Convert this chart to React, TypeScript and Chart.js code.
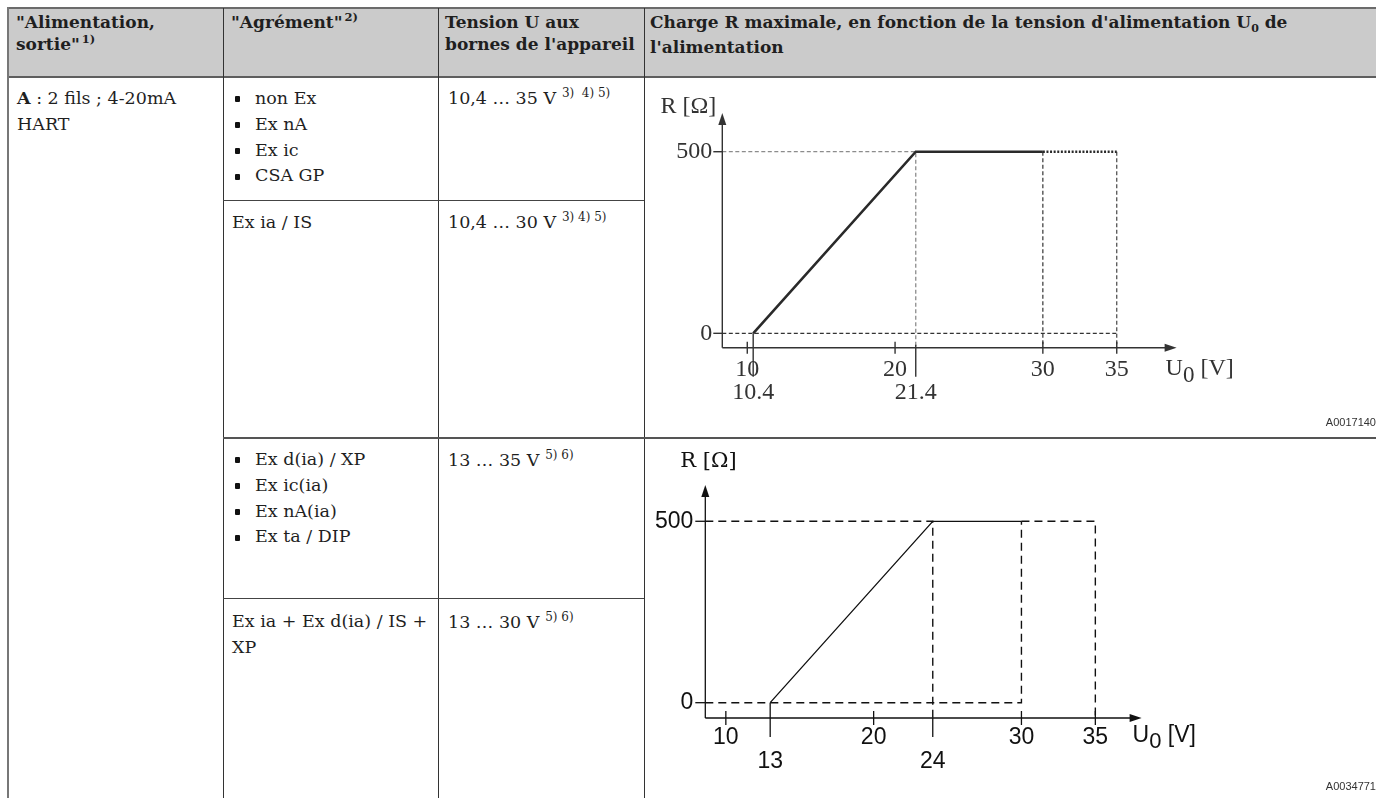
import React, { useEffect, useRef } from "react";
import { Chart, registerables } from "chart.js";

Chart.register(...registerables);

// ---------- Chart 1 : non Ex / Ex nA / Ex ic / CSA GP and Ex ia / IS ----------
const c1LoadVoltage = [10.4, 21.4, 30];
const c1LoadOhm = [0, 500, 500];
const c1ExtVoltage = [30, 35];
const c1ExtOhm = [500, 500];
const c1XTicksMain = [10, 20, 30, 35];
const c1XTicksSecond = [10.4, 21.4];
const c1YTicks = [0, 500];
const c1XRange = [8.31, 39.05];
const c1YRange = [-39.6, 606.6];

// ---------- Chart 2 : Ex d(ia) ... ----------
const c2LoadVoltage = [13, 24, 30];
const c2LoadOhm = [0, 500, 500];
const c2ExtVoltage = [30, 35];
const c2XTicksMain = [10, 20, 30, 35];
const c2XTicksSecond = [13, 24];
const c2YTicks = [0, 500];
const c2XRange = [8.61, 38.13];
const c2YRange = [-42.2, 600];

const SERIF = "'DejaVu Serif', serif";

type P = { x: number; y: number };
const pts = (xs: number[], ys: number[]): P[] => xs.map((x, i) => ({ x, y: ys[i] }));

type AxisCfg = {
  color: string;
  lineWidth: number;
  font: string;
  subFont: string;
  textColor: string;
  arrowLen: number;
  arrowHalf: number;
  yTicks: number[];
  yTickLen: number;
  yLabelGap: number;
  xMain: number[];
  xMainUp: number;
  xMainDown: number;
  xMainLabelDy: number;
  xSecond: number[];
  xSecondFromZero: boolean[];
  xSecondUp: number;
  xSecondDown: number;
  xSecondLabelDy: number;
  unitDx: number;
  unitDy: number;
  subDy: number;
  rFont: string;
  rDx: number;
  rDy: number;
  rAlign: CanvasTextAlign;
};

function makeAxisPlugin(cfg: AxisCfg) {
  return {
    id: "schematicAxes",
    afterDatasetsDraw(chart: any) {
      const ctx: CanvasRenderingContext2D = chart.ctx;
      const xs = chart.scales.x;
      const ys = chart.scales.y;
      const { left, right, top, bottom } = chart.chartArea;
      ctx.save();
      ctx.strokeStyle = cfg.color;
      ctx.fillStyle = cfg.color;
      ctx.lineWidth = cfg.lineWidth;
      ctx.setLineDash([]);
      // axes
      ctx.beginPath();
      ctx.moveTo(left, bottom);
      ctx.lineTo(left, top + cfg.arrowLen - 1);
      ctx.moveTo(left, bottom);
      ctx.lineTo(right - cfg.arrowLen + 1, bottom);
      ctx.stroke();
      // arrows
      ctx.beginPath();
      ctx.moveTo(left, top);
      ctx.lineTo(left - cfg.arrowHalf, top + cfg.arrowLen);
      ctx.lineTo(left + cfg.arrowHalf, top + cfg.arrowLen);
      ctx.closePath();
      ctx.fill();
      ctx.beginPath();
      ctx.moveTo(right, bottom);
      ctx.lineTo(right - cfg.arrowLen, bottom - cfg.arrowHalf);
      ctx.lineTo(right - cfg.arrowLen, bottom + cfg.arrowHalf);
      ctx.closePath();
      ctx.fill();

      ctx.fillStyle = cfg.textColor;
      ctx.font = cfg.font;
      // y ticks
      ctx.textAlign = "right";
      ctx.textBaseline = "middle";
      cfg.yTicks.forEach((v) => {
        const py = ys.getPixelForValue(v);
        ctx.beginPath();
        ctx.moveTo(left - cfg.yTickLen, py);
        ctx.lineTo(left, py);
        ctx.stroke();
        ctx.fillText(String(v), left - cfg.yLabelGap, py);
      });
      // x main ticks
      ctx.textAlign = "center";
      cfg.xMain.forEach((v) => {
        const px = xs.getPixelForValue(v);
        ctx.beginPath();
        ctx.moveTo(px, bottom - cfg.xMainUp);
        ctx.lineTo(px, bottom + cfg.xMainDown);
        ctx.stroke();
        ctx.fillText(String(v), px, bottom + cfg.xMainLabelDy);
      });
      // x second-row ticks
      const zeroY = ys.getPixelForValue(0);
      cfg.xSecond.forEach((v, i) => {
        const px = xs.getPixelForValue(v);
        ctx.beginPath();
        ctx.moveTo(px, cfg.xSecondFromZero[i] ? zeroY : bottom - cfg.xSecondUp);
        ctx.lineTo(px, bottom + cfg.xSecondDown);
        ctx.stroke();
        ctx.fillText(String(v), px, bottom + cfg.xSecondLabelDy);
      });
      // unit label U0 [V]
      ctx.textAlign = "left";
      let ux = right + cfg.unitDx;
      const uy = bottom + cfg.unitDy;
      ctx.fillText("U", ux, uy);
      ux += ctx.measureText("U").width;
      ctx.font = cfg.subFont;
      ctx.fillText("0", ux, uy + cfg.subDy);
      ux += ctx.measureText("0").width;
      ctx.font = cfg.font;
      ctx.fillText(" [V]", ux, uy);
      // R label
      ctx.font = cfg.rFont;
      ctx.textAlign = cfg.rAlign;
      ctx.fillText("R [\u03a9]", left + cfg.rDx, top + cfg.rDy);
      ctx.restore();
    },
  };
}

function line(data: P[], color: string, width: number, dash: number[]) {
  return {
    data,
    showLine: true,
    borderColor: color,
    backgroundColor: color,
    borderWidth: width,
    borderDash: dash,
    pointRadius: 0,
    pointHoverRadius: 0,
    fill: false,
    tension: 0,
  };
}

function buildChart1() {
  const X0 = c1XRange[0];
  const Y0 = c1YRange[0];
  const kneeX = c1LoadVoltage[1];
  const maxR = c1LoadOhm[1];
  const endX = c1LoadVoltage[2];
  const extX = c1ExtVoltage[1];
  return {
    datasets: [
      line(pts(c1LoadVoltage, c1LoadOhm), "#2a2a2a", 2.6, []),
      line(pts(c1ExtVoltage, c1ExtOhm), "#2a2a2a", 2.6, [2, 1.6]),
      line([{ x: X0, y: maxR }, { x: kneeX, y: maxR }, { x: kneeX, y: Y0 }], "#8c8c8c", 1.3, [4, 2.5]),
      line([{ x: X0, y: 0 }, { x: extX, y: 0 }], "#333", 1.2, [4, 2.5]),
      line([{ x: endX, y: maxR }, { x: endX, y: Y0 }], "#333", 1.2, [4, 2.5]),
      line([{ x: extX, y: maxR }, { x: extX, y: Y0 }], "#444", 1.2, [4, 2.5]),
    ],
  };
}

function buildChart2() {
  const X0 = c2XRange[0];
  const Y0 = c2YRange[0];
  const kneeX = c2LoadVoltage[1];
  const maxR = c2LoadOhm[1];
  const endX = c2LoadVoltage[2];
  const extX = c2ExtVoltage[1];
  return {
    datasets: [
      line(pts(c2LoadVoltage, c2LoadOhm), "#111", 1.3, []),
      line([{ x: X0, y: maxR }, { x: kneeX, y: maxR }, { x: kneeX, y: Y0 }], "#111", 1.4, [8, 5]),
      line([{ x: endX, y: maxR }, { x: extX, y: maxR }, { x: extX, y: Y0 }], "#111", 1.4, [8, 5]),
      line([{ x: X0, y: 0 }, { x: endX, y: 0 }, { x: endX, y: maxR }], "#111", 1.4, [8, 5]),
    ],
  };
}

const axis1: AxisCfg = {
  color: "#333",
  lineWidth: 1.4,
  font: "24px 'Liberation Serif'",
  subFont: "23px 'Liberation Serif'",
  textColor: "#333",
  arrowLen: 12,
  arrowHalf: 4,
  yTicks: c1YTicks,
  yTickLen: 9,
  yLabelGap: 10,
  xMain: c1XTicksMain,
  xMainUp: 6,
  xMainDown: 6,
  xMainLabelDy: 22,
  xSecond: c1XTicksSecond,
  xSecondFromZero: [true, false],
  xSecondUp: 3,
  xSecondDown: 29,
  xSecondLabelDy: 45,
  unitDx: -11,
  unitDy: 21,
  subDy: 7,
  rFont: "24px 'Liberation Serif'",
  rDx: -6,
  rDy: -6,
  rAlign: "right",
};

const axis2: AxisCfg = {
  color: "#111",
  lineWidth: 1.3,
  font: "23px 'Liberation Sans'",
  subFont: "22px 'Liberation Sans'",
  textColor: "#111",
  arrowLen: 12,
  arrowHalf: 4,
  yTicks: c2YTicks,
  yTickLen: 10,
  yLabelGap: 12,
  xMain: c2XTicksMain,
  xMainUp: 7,
  xMainDown: 7,
  xMainLabelDy: 20,
  xSecond: c2XTicksSecond,
  xSecondFromZero: [true, false],
  xSecondUp: 0,
  xSecondDown: 19,
  xSecondLabelDy: 44,
  unitDx: -9,
  unitDy: 18,
  subDy: 6,
  rFont: "21px 'DejaVu Serif'",
  rDx: -25,
  rDy: -23,
  rAlign: "left",
};

type ChartBoxProps = {
  left: number;
  top: number;
  width: number;
  height: number;
  build: () => any;
  xRange: number[];
  yRange: number[];
  padding: { left: number; right: number; top: number; bottom: number };
  axis: AxisCfg;
};

function ChartBox(props: ChartBoxProps) {
  const ref = useRef<HTMLCanvasElement | null>(null);
  useEffect(() => {
    if (!ref.current) return;
    const chart = new Chart(ref.current, {
      type: "scatter",
      data: props.build(),
      options: {
        responsive: false,
        animation: false,
        events: [],
        layout: { padding: props.padding },
        plugins: { legend: { display: false }, tooltip: { enabled: false }, title: { display: false } },
        scales: {
          x: { type: "linear", min: props.xRange[0], max: props.xRange[1], display: false },
          y: { type: "linear", min: props.yRange[0], max: props.yRange[1], display: false },
        },
      } as any,
      plugins: [makeAxisPlugin(props.axis)],
    });
    return () => chart.destroy();
  }, []);
  return (
    <canvas
      ref={ref}
      width={props.width}
      height={props.height}
      style={{ position: "absolute", left: props.left, top: props.top, width: props.width, height: props.height }}
    />
  );
}

const HL = ({ x, y, w, h = 1, c = "#333" }: any) => (
  <div style={{ position: "absolute", left: x, top: y, width: w, height: h, background: c }} />
);
const VL = ({ x, y, h, w = 1, c = "#333" }: any) => (
  <div style={{ position: "absolute", left: x, top: y, width: w, height: h, background: c }} />
);

const Sup = ({ children, size = 12, dy = -7 }: any) => (
  <span style={{ fontSize: size, position: "relative", top: dy, whiteSpace: "pre", marginLeft: 2 }}>{children}</span>
);

const Txt = ({ x, y, lh = 26, size = 17.5, weight = 400, children }: any) => (
  <div
    style={{
      position: "absolute",
      left: x,
      top: y,
      lineHeight: lh + "px",
      fontSize: size,
      fontWeight: weight,
      whiteSpace: "nowrap",
      fontFamily: SERIF,
    }}
  >
    {children}
  </div>
);

const Bullets = ({ y, items, lh = 25.8 }: any) => (
  <>
    {items.map((t: string, i: number) => (
      <React.Fragment key={i}>
        <div
          style={{
            position: "absolute",
            left: 235,
            top: y + i * lh + lh / 2 - 2.5,
            width: 5,
            height: 6,
            background: "#111",
            borderRadius: 1,
          }}
        />
        <Txt x={255} y={y + i * lh} lh={lh}>
          {t}
        </Txt>
      </React.Fragment>
    ))}
  </>
);

const codeStyle: React.CSSProperties = {
  position: "absolute",
  fontFamily: "'Liberation Sans', sans-serif",
  fontSize: 11,
  color: "#333",
  right: 0,
  whiteSpace: "nowrap",
};

export default function App() {
  const H = 17;
  return (
    <div
      style={{
        position: "fixed",
        left: 0,
        top: 0,
        width: 1376,
        height: 798,
        overflow: "hidden",
        background: "#fff",
        color: "#1f1f1f",
        fontFamily: SERIF,
      }}
    >
      {/* header background */}
      <div style={{ position: "absolute", left: 8, top: 8, width: 1368, height: 69, background: "#cbcbcb" }} />
      <HL x={8} y={7} w={1368} h={2} c="#6b6b6b" />
      <HL x={8} y={76} w={1368} h={2} c="#5e5e5e" />
      {/* vertical lines */}
      <VL x={7} y={7} h={791} w={2} c="#777" />
      <VL x={223} y={8} h={790} c="#333" />
      <VL x={438} y={8} h={790} c="#333" />
      <VL x={644} y={8} h={790} c="#333" />
      {/* body horizontal lines */}
      <HL x={223} y={200} w={421} c="#444" />
      <HL x={223} y={437} w={1153} h={1.5} c="#555" />
      <HL x={223} y={598} w={421} c="#444" />

      {/* header texts */}
      <Txt x={16} y={11} lh={22} size={H} weight={700}>
        <div>"Alimentation,</div>
        <div>
          sortie"<Sup size={11.5}>1)</Sup>
        </div>
      </Txt>
      <Txt x={231} y={11} lh={22} size={H} weight={700}>
        "Agrément"<Sup size={11.5}>2)</Sup>
      </Txt>
      <Txt x={445} y={11} lh={22} size={H} weight={700}>
        <div>Tension U aux</div>
        <div>bornes de l'appareil</div>
      </Txt>
      <Txt x={650} y={11} lh={22} size={H} weight={700}>
        <div>
          Charge R maximale, en fonction de la tension d'alimentation U
          <span style={{ fontSize: 11, position: "relative", top: 4 }}>0</span> de
        </div>
        <div>l'alimentation</div>
      </Txt>

      {/* row 1 */}
      <Txt x={17} y={85}>
        <div>
          <b>A</b> : 2 fils ; 4-20mA
        </div>
        <div>HART</div>
      </Txt>
      <Bullets y={86} items={["non Ex", "Ex nA", "Ex ic", "CSA GP"]} />
      <Txt x={448} y={85}>
        10,4 … 35 V<Sup>{" 3)  4) 5)"}</Sup>
      </Txt>

      {/* row 2 */}
      <Txt x={232} y={209}>
        Ex ia / IS
      </Txt>
      <Txt x={448} y={209}>
        10,4 … 30 V<Sup>{" 3) 4) 5)"}</Sup>
      </Txt>

      {/* row 3 */}
      <Bullets y={447} items={["Ex d(ia) / XP", "Ex ic(ia)", "Ex nA(ia)", "Ex ta / DIP"]} />
      <Txt x={448} y={447}>
        13 … 35 V<Sup>{" 5) 6)"}</Sup>
      </Txt>

      {/* row 4 */}
      <Txt x={232} y={609} lh={25.8}>
        <div>Ex ia + Ex d(ia) / IS +</div>
        <div>XP</div>
      </Txt>
      <Txt x={448} y={609}>
        13 … 30 V<Sup>{" 5) 6)"}</Sup>
      </Txt>

      {/* charts */}
      <ChartBox
        left={645}
        top={78}
        width={731}
        height={359}
        build={buildChart1}
        xRange={c1XRange}
        yRange={c1YRange}
        padding={{ left: 77.3, right: 199.4, top: 35, bottom: 89.3 }}
        axis={axis1}
      />
      <ChartBox
        left={645}
        top={439}
        width={731}
        height={359}
        build={buildChart2}
        xRange={c2XRange}
        yRange={c2YRange}
        padding={{ left: 60.3, right: 234.4, top: 46, bottom: 80 }}
        axis={axis2}
      />

      <div style={{ ...codeStyle, top: 416 }}>A0017140</div>
      <div style={{ ...codeStyle, top: 780 }}>A0034771</div>
    </div>
  );
}
